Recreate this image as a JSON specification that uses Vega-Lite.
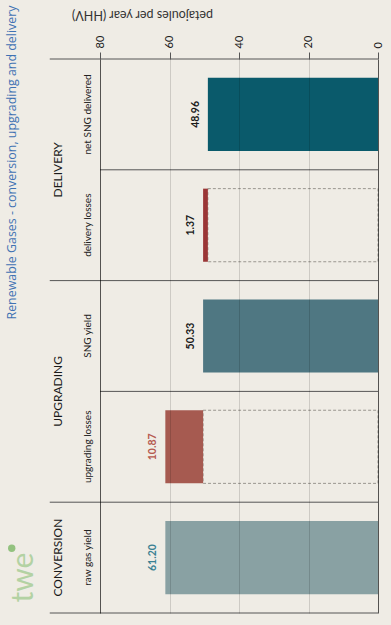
{
  "$schema": "https://vega.github.io/schema/vega-lite/v6.json",
  "width": 278,
  "height": 554,
  "autosize": {"type": "none"},
  "padding": {"left": 100, "top": 59, "right": 13, "bottom": 12},
  "background": "#efece5",
  "config": {"view": {"stroke": null}, "font": "Lato"},
  "title": {
    "text": "Renewable Gases - conversion, upgrading and delivery",
    "orient": "left",
    "anchor": "start",
    "color": "#3f72b3",
    "fontSize": 12.4,
    "fontWeight": "normal",
    "font": "Open Sans",
    "offset": -10,
    "dx": 294
  },
  "datasets": {
    "rows": [
      {"group": "DELIVERY", "cat": "net SNG delivered", "start": 0, "end": 48.96, "label": "48.96", "first": true, "loss": false},
      {"group": "DELIVERY", "cat": "delivery losses", "start": 48.96, "end": 50.33, "label": "1.37", "first": false, "loss": true},
      {"group": "UPGRADING", "cat": "SNG yield", "start": 0, "end": 50.33, "label": "50.33", "first": true, "loss": false},
      {"group": "UPGRADING", "cat": "upgrading losses", "start": 50.33, "end": 61.2, "label": "10.87", "first": false, "loss": true},
      {"group": "CONVERSION", "cat": "raw gas yield", "start": 0, "end": 61.2, "label": "61.20", "first": true, "loss": false}
    ]
  },
  "data": {"name": "rows"},
  "layer": [
    {
      "transform": [{"filter": "!datum.first"}],
      "mark": {"type": "rule", "color": "#555555", "strokeWidth": 1},
      "encoding": {
        "y": {"field": "cat", "type": "nominal", "bandPosition": 0},
        "x": {"datum": 0, "type": "quantitative"},
        "x2": {"datum": 80}
      }
    },
    {
      "transform": [{"filter": "datum.first"}],
      "mark": {"type": "rule", "color": "#555555", "strokeWidth": 1},
      "encoding": {
        "y": {"field": "cat", "type": "nominal", "bandPosition": 0},
        "x": {"datum": 0, "type": "quantitative"},
        "x2": {"datum": 94.46}
      }
    },
    {
      "transform": [{"filter": "datum.cat === 'raw gas yield'"}],
      "mark": {"type": "rule", "color": "#555555", "strokeWidth": 1},
      "encoding": {
        "y": {"field": "cat", "type": "nominal", "bandPosition": 1},
        "x": {"datum": 0, "type": "quantitative"},
        "x2": {"datum": 94.46}
      }
    },
    {
      "transform": [{"filter": "datum.loss"}],
      "mark": {"type": "bar", "fill": "transparent", "stroke": "#9a968f", "strokeWidth": 1, "strokeDash": [3, 2], "height": {"band": 0.66}},
      "encoding": {
        "y": {"field": "cat", "type": "nominal"},
        "x": {"field": "start", "type": "quantitative"},
        "x2": {"datum": 0}
      }
    },
    {
      "mark": {"type": "bar", "height": {"band": 0.66}},
      "encoding": {
        "y": {
          "field": "cat",
          "type": "nominal",
          "scale": {
            "domain": ["net SNG delivered", "delivery losses", "SNG yield", "upgrading losses", "raw gas yield"],
            "paddingInner": 0,
            "paddingOuter": 0
          },
          "axis": {
            "title": null,
            "ticks": false,
            "tickSize": 0,
            "domain": false,
            "grid": false,
            "labelAngle": 270,
            "labelAlign": "center",
            "labelBaseline": "bottom",
            "labelPadding": 8,
            "labelFontSize": 10,
            "labelColor": "#222222"
          }
        },
        "x": {
          "field": "start",
          "type": "quantitative",
          "scale": {"domain": [0, 80], "reverse": true, "nice": false},
          "axis": {
            "orient": "top",
            "values": [0, 20, 40, 60, 80],
            "title": "petajoules per year (HHV)",
            "titleAngle": 180,
            "titleX": 42,
            "titleY": -45,
            "titleAlign": "center",
            "titleBaseline": "middle",
            "titleFontSize": 12.5,
            "titleFontWeight": "normal",
            "titleColor": "#333333",
            "labelAngle": 270,
            "labelAlign": "left",
            "labelBaseline": "middle",
            "labelPadding": 4,
            "labelFontSize": 11,
            "labelColor": "#222222",
            "tickSize": 7,
            "tickColor": "#555555",
            "domain": false,
            "grid": true,
            "gridColor": "#000000",
            "gridOpacity": {"condition": {"test": "datum.value === 0 || datum.value === 80", "value": 0.65}, "value": 0.14},
            "zindex": 1
          }
        },
        "x2": {"field": "end"},
        "color": {
          "field": "cat",
          "type": "nominal",
          "scale": {
            "domain": ["net SNG delivered", "delivery losses", "SNG yield", "upgrading losses", "raw gas yield"],
            "range": ["#0a5a6b", "#9a3636", "#4f7782", "#a65a50", "#89a1a3"]
          },
          "legend": null
        }
      }
    },
    {
      "mark": {"type": "text", "angle": 270, "align": "center", "baseline": "middle", "dy": -12, "fontSize": 10.5, "fontWeight": "bold"},
      "encoding": {
        "y": {"field": "cat", "type": "nominal"},
        "x": {"field": "end", "type": "quantitative"},
        "text": {"field": "label"},
        "fill": {
          "condition": [
            {"test": "datum.cat === 'upgrading losses'", "value": "#b55a4f"},
            {"test": "datum.cat === 'raw gas yield'", "value": "#3a8193"}
          ],
          "value": "#1a1a1a"
        }
      }
    },
    {
      "transform": [{"filter": "datum.first && datum.group !== 'CONVERSION'"}],
      "mark": {"type": "text", "angle": 270, "align": "center", "baseline": "middle", "fontSize": 12, "color": "#1a1a1a"},
      "encoding": {
        "y": {"field": "cat", "type": "nominal", "bandPosition": 1},
        "x": {"datum": 92.2, "type": "quantitative"},
        "text": {"field": "group"}
      }
    },
    {
      "transform": [{"filter": "datum.group === 'CONVERSION'"}],
      "mark": {"type": "text", "angle": 270, "align": "center", "baseline": "middle", "fontSize": 12, "color": "#1a1a1a"},
      "encoding": {
        "y": {"field": "cat", "type": "nominal", "bandPosition": 0.5},
        "x": {"datum": 92.2, "type": "quantitative"},
        "text": {"field": "group"}
      }
    },
    {
      "transform": [{"filter": "datum.group === 'CONVERSION'"}],
      "mark": {"type": "text", "angle": 270, "align": "center", "baseline": "middle", "fontSize": 30, "color": "#b3d2a3"},
      "encoding": {
        "y": {"field": "cat", "type": "nominal", "bandPosition": 0.68},
        "x": {"datum": 101.9, "type": "quantitative"},
        "text": {"value": "twe"}
      }
    },
    {
      "transform": [{"filter": "datum.group === 'CONVERSION'"}],
      "mark": {"type": "point", "filled": true, "size": 55, "color": "#93c27f", "opacity": 1},
      "encoding": {
        "y": {"field": "cat", "type": "nominal", "bandPosition": 0.415},
        "x": {"datum": 105.4, "type": "quantitative"}
      }
    }
  ]
}
